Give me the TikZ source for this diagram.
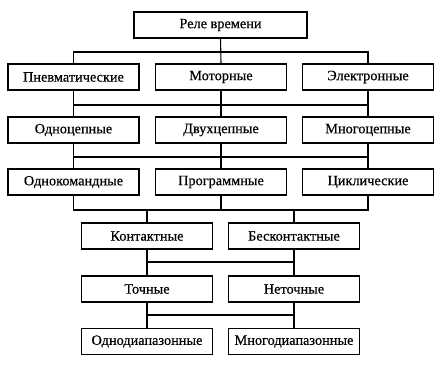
\documentclass[tikz,border=0pt]{standalone}
\usepackage{fontspec}
\setmainfont{Liberation Serif}
\newfontfamily\labfont{Liberation Serif}[FakeBold=0.5]
\begin{document}
\begin{tikzpicture}[x=1pt,y=-1pt,
  box/.style={draw, line width=1.1pt, minimum width=131pt, minimum height=26pt, inner sep=0pt, font=\labfont\fontsize{14.3}{16}\selectfont},
  conn/.style={line width=1.1pt}]
\useasboundingbox (0,0) rectangle (443,367);
\node[box, minimum width=173pt] (top) at (220.5,25) {Реле времени};
\node[box] (pn) at (73.5,77) {Пневматические};
\node[box] (mo) at (221,77) {Моторные};
\node[box] (el) at (368,77) {Электронные};
\node[box] (oc) at (73.5,130) {Одноцепные};
\node[box] (dc) at (221,130) {Двухцепные};
\node[box] (mc) at (368,130) {Многоцепные};
\node[box] (ok) at (73.5,182) {Однокомандные};
\node[box] (pr) at (221,182) {Программные};
\node[box] (cy) at (368,182) {Циклические};
\node[box] (ko) at (147,236) {Контактные};
\node[box] (bk) at (294,236) {Бесконтактные};
\node[box] (to) at (147,289) {Точные};
\node[box] (nt) at (294,289) {Неточные};
\node[box] (od) at (147,341.5) {Однодиапазонные};
\node[box] (md) at (294,341.5) {Многодиапазонные};
\coordinate (b1) at (0,52);
\coordinate (b2) at (0,105);
\coordinate (b3) at (0,157);
\coordinate (b4) at (0,210);
\coordinate (b5) at (0,262);
\coordinate (b6) at (0,315);
% level 1
\draw[conn] (top.south) -- (mo.north);
\draw[conn] (pn.north) -- (pn.north|-b1) -- (el.north|-b1) -- (el.north);
% level 2
\draw[conn] (pn.south) -- (oc.north);
\draw[conn] (mo.south) -- (dc.north);
\draw[conn] (el.south) -- (mc.north);
\draw[conn] (pn.south|-b2) -- (el.south|-b2);
% level 3
\draw[conn] (oc.south) -- (ok.north);
\draw[conn] (dc.south) -- (pr.north);
\draw[conn] (mc.south) -- (cy.north);
\draw[conn] (oc.south|-b3) -- (mc.south|-b3);
% level 4
\draw[conn] (ok.south) -- (ok.south|-b4) -- (cy.south|-b4) -- (cy.south);
\draw[conn] (pr.south) -- (pr.south|-b4);
\draw[conn] (ko.north) -- (ko.north|-b4);
\draw[conn] (bk.north) -- (bk.north|-b4);
% level 5
\draw[conn] (ko.south) -- (to.north);
\draw[conn] (bk.south) -- (nt.north);
\draw[conn] (ko.south|-b5) -- (bk.south|-b5);
% level 6
\draw[conn] (to.south) -- (od.north);
\draw[conn] (nt.south) -- (md.north);
\draw[conn] (to.south|-b6) -- (nt.south|-b6);
\end{tikzpicture}
\end{document}
